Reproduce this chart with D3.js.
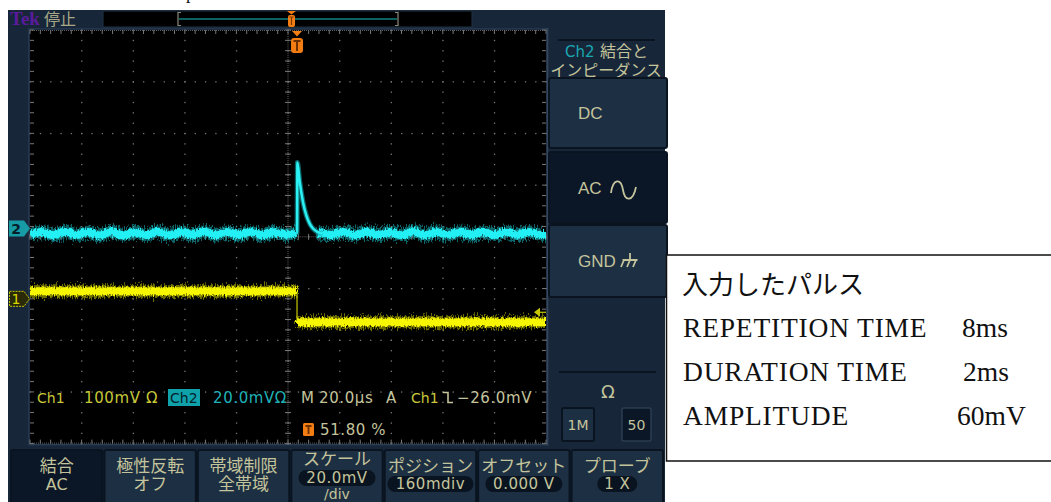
<!DOCTYPE html>
<html>
<head>
<meta charset="utf-8">
<script src="https://cdn.jsdelivr.net/npm/d3@7"></script>
<style>
  html, body { margin: 0; padding: 0; background: #fff; }
  svg { display: block; }
</style>
</head>
<body>
<div id="chart"></div>
<script>
// ---- values ----
// Ch1 (yellow): flat level before the trigger, steps down at t=0
const ch1Time = [-103.5, 0, 0, 96.5]           // µs
const ch1Volt = [14.5, 14.5, -45.5, -45.5]     // mV

// Ch2 (cyan): small ripple, spike at the step, decays back
const ch2PreTime = [-103.5, -99, -94.5, -90, -85.5, -81, -76.5, -72, -67.5, -63, -58.5, -54,
  -49.5, -45, -40.5, -36, -31.5, -27, -22.5, -18, -13.5, -9, -4.5, -0.3]
const ch2PreVolt = [-2.3, -1.3, -2.6, -1.2, -2.5, -1.3, -2.7, -1.1, -2.6, -1.3, -2.5, -1.2,
  -2.6, -1.3, -2.4, -1.2, -2.6, -1.3, -2.5, -1.2, -2.6, -1.4, -2.4, -1.6]
const ch2SpikeTime = [-0.3, 0.0, 0.15, 1.05, 2.3, 3.6, 4.9, 6.2, 8.1, 10]
const ch2SpikeVolt = [-1.6, -1.6, 25.5, 18.1, 10.3, 5.1, 1.9, 0.0, -1.4, -1.9]
const ch2PostTime = [8.1, 10, 13.5, 18, 22.5, 27, 31.5, 36, 40.5, 45, 49.5, 54, 58.5, 63,
  67.5, 72, 76.5, 81, 85.5, 90, 94.5, 96.5]
const ch2PostVolt = [-1.6, -1.9, -2.5, -1.3, -2.6, -1.2, -2.5, -1.3, -2.6, -1.1, -2.5, -1.3,
  -2.6, -1.2, -2.5, -1.3, -2.6, -1.2, -2.4, -1.3, -2.5, -2.0]

const timeRange = [-103.5, 96.5]   // 10 div x 20µs, trigger at 51.8 %
const ch1Scale = 100, ch1Pos = -1.2   // mV/div, div
const ch2Scale = 20,  ch2Pos = 0.16
const trigLevel = -26                 // mV on Ch1

const menuTop = ["結合", "極性反転", "帯域制限", "スケール", "ポジション", "オフセット", "プローブ"]
const menuBottom = ["AC", "オフ", "全帯域", "20.0mV", "160mdiv", "0.000 V", "1 X"]
const menuPill = [false, false, false, true, true, true, true]
const sideButtons = ["DC", "AC", "GND"]

const noteTitle = "入力したパルス"
const noteLabels = ["REPETITION TIME", "DURATION TIME", "AMPLITUDE"]
const noteValues = ["8ms", "2ms", "60mV"]

// ---- layout ----
const W = 1051, H = 502
const gx0 = 30, gx1 = 546, gy0 = 30, gy1 = 443.6
const divY = (gy1 - gy0) / 8
const yc = (gy0 + gy1) / 2

const navy = "#172739", btn = "#1d2f42", btnDark = "#0b1727", btnEdge = "#0a1420"
const khaki = "#c4c49c", yel = "#c8c83a", cyanTxt = "#1fb0b8", orange = "#f27d12"
const ui = "'DejaVu Sans', sans-serif", jp = "'Noto Sans CJK JP', sans-serif"

const x = d3.scaleLinear().domain(timeRange).range([gx0, gx1])
const y1 = d3.scaleLinear().domain([0, ch1Scale]).range([yc - ch1Pos * divY, yc - (ch1Pos + 1) * divY])
const y2 = d3.scaleLinear().domain([0, ch2Scale]).range([yc - ch2Pos * divY, yc - (ch2Pos + 1) * divY])

const svg = d3.select("#chart").append("svg")
  .attr("width", W).attr("height", H)
  .style("font-family", ui)

const defs = svg.append("defs")
function noiseFilter(id, scale, seed) {
  const f = defs.append("filter").attr("id", id).attr("filterUnits", "userSpaceOnUse")
    .attr("x", gx0 - 10).attr("y", gy0).attr("width", gx1 - gx0 + 20).attr("height", gy1 - gy0)
  f.append("feTurbulence").attr("type", "fractalNoise")
    .attr("baseFrequency", "0.9 0.25").attr("numOctaves", 2).attr("seed", seed).attr("result", "n")
  f.append("feDisplacementMap").attr("in", "SourceGraphic").attr("in2", "n")
    .attr("scale", scale).attr("xChannelSelector", "R").attr("yChannelSelector", "G")
}
noiseFilter("noiseWide", 13, 2)
noiseFilter("noiseNarrow", 6, 7)
defs.append("clipPath").attr("id", "grat")
  .append("rect").attr("x", gx0).attr("y", gy0).attr("width", gx1 - gx0).attr("height", gy1 - gy0)

// a stray glyph of the caption above the screenshot
svg.append("text").attr("x", 186).attr("y", -1).attr("font-family", "'Liberation Serif', serif")
  .attr("font-size", 18).attr("fill", "#111").text("p")

// ---- scope frame ----
svg.append("rect").attr("x", 8).attr("y", 10).attr("width", 657).attr("height", 492).attr("fill", navy)

// top bar
svg.append("text").attr("x", 10).attr("y", 25).attr("font-family", "'Liberation Serif', serif")
  .attr("font-weight", "bold").attr("font-size", 19).attr("fill", "#5a1a9c").text("Tek")
svg.append("text").attr("x", 44).attr("y", 25).attr("font-family", jp)
  .attr("font-size", 16).attr("fill", "#a8a888").text("停止")
svg.append("rect").attr("x", 103).attr("y", 11).attr("width", 369).attr("height", 16)
  .attr("fill", "#000").attr("stroke", "#223246")
svg.append("line").attr("x1", 179).attr("x2", 397).attr("y1", 19).attr("y2", 19)
  .attr("stroke", "#0f8080").attr("stroke-width", 1.5)
svg.append("path").attr("d", "M181,12.5 h-3 v13 h3 M395,12.5 h3 v13 h-3")
  .attr("fill", "none").attr("stroke", "#8a8a7a").attr("stroke-width", 1.2)
svg.append("path").attr("d", "M287,11 h9 l-4.5,3.5 z").attr("fill", orange)
svg.append("rect").attr("x", 288).attr("y", 15).attr("width", 7).attr("height", 12).attr("rx", 2).attr("fill", orange)
svg.append("path").attr("d", "M289.5,17 h4 M291.5,17 v8").attr("stroke", "#7a3a00").attr("stroke-width", 1.2)

// graticule
svg.append("rect").attr("x", gx0 - 1).attr("y", gy0 - 1).attr("width", gx1 - gx0 + 2).attr("height", gy1 - gy0 + 2)
  .attr("fill", "#000").attr("stroke", "#2a3d55").attr("stroke-width", 1.5)

const grid = svg.append("g").attr("fill", "#777")
const vDivs = d3.range(1, 10).map(i => gx0 + i * (gx1 - gx0) / 10)
const hDivs = d3.range(1, 8).map(j => gy0 + j * divY)
const ySteps = d3.range(0, 41).map(k => gy0 + k * divY / 5)
const xSteps = d3.range(0, 51).map(k => gx0 + k * (gx1 - gx0) / 50)
vDivs.forEach(vx => ySteps.forEach(vy => grid.append("rect").attr("x", vx - 0.5).attr("y", vy - 0.5).attr("width", 1.3).attr("height", 1.3)))
hDivs.forEach(hy => xSteps.forEach(hx => grid.append("rect").attr("x", hx - 0.5).attr("y", hy - 0.5).attr("width", 1.3).attr("height", 1.3)))
// centre cross ticks
const xc = (gx0 + gx1) / 2
ySteps.forEach(vy => grid.append("rect").attr("x", xc - 3).attr("y", vy - 0.5).attr("width", 6).attr("height", 1))
xSteps.forEach(hx => grid.append("rect").attr("x", hx - 0.5).attr("y", yc - 3).attr("width", 1).attr("height", 6))
d3.range(0, 201).forEach(k => {
  const vy = gy0 + k * (gy1 - gy0) / 200
  grid.append("rect").attr("x", xc - 0.5).attr("y", vy).attr("width", 1).attr("height", 0.8)
})
d3.range(0, 251).forEach(k => {
  const hx = gx0 + k * (gx1 - gx0) / 250
  grid.append("rect").attr("x", hx).attr("y", yc - 0.5).attr("width", 0.8).attr("height", 1)
})
// edge ticks
xSteps.forEach(hx => {
  grid.append("rect").attr("x", hx - 0.5).attr("y", gy0).attr("width", 1).attr("height", 4)
  grid.append("rect").attr("x", hx - 0.5).attr("y", gy1 - 4).attr("width", 1).attr("height", 4)
})
ySteps.forEach(vy => {
  grid.append("rect").attr("x", gx0).attr("y", vy - 0.5).attr("width", 4).attr("height", 1)
  grid.append("rect").attr("x", gx1 - 4).attr("y", vy - 0.5).attr("width", 4).attr("height", 1)
})
d3.range(0, 259).forEach(k => {
  const hx = gx0 + k * 2
  grid.append("rect").attr("x", hx).attr("y", gy0).attr("width", 0.8).attr("height", 1)
  grid.append("rect").attr("x", hx).attr("y", gy1 - 1).attr("width", 0.8).attr("height", 1)
})

// ---- traces ----
const traces = svg.append("g").attr("clip-path", "url(#grat)")
function band(times, volts, ys, curve, core, halo, wCore, wHalo) {
  const line = d3.line().x((d, i) => x(times[i])).y((d, i) => ys(volts[i])).curve(curve)
  traces.append("path").attr("d", line(times)).attr("fill", "none")
    .attr("stroke", halo).attr("stroke-width", wHalo).attr("opacity", 0.6).attr("filter", "url(#noiseWide)")
  traces.append("path").attr("d", line(times)).attr("fill", "none")
    .attr("stroke", core).attr("stroke-width", wCore).attr("filter", "url(#noiseNarrow)")
}
// Ch1 as two flat bands and a thin edge
traces.append("line").attr("x1", x(0)).attr("x2", x(0)).attr("y1", y1(ch1Volt[1])).attr("y2", y1(ch1Volt[2]))
  .attr("stroke", "#a0a000").attr("stroke-width", 1.5)
band(ch1Time.slice(0, 2), ch1Volt.slice(0, 2), y1, d3.curveLinear, "#f6f600", "#b8b800", 8, 12)
band(ch1Time.slice(2), ch1Volt.slice(2), y1, d3.curveLinear, "#f6f600", "#b8b800", 8, 12)
// Ch2
band(ch2PreTime, ch2PreVolt, y2, d3.curveCardinal, "#24f0f4", "#14a8b0", 8, 13)
band(ch2PostTime, ch2PostVolt, y2, d3.curveCardinal, "#24f0f4", "#14a8b0", 8, 13)
const spike = d3.line().x((d, i) => x(ch2SpikeTime[i])).y((d, i) => y2(ch2SpikeVolt[i])).curve(d3.curveMonotoneX)
traces.append("path").attr("d", spike(ch2SpikeTime)).attr("fill", "none")
  .attr("stroke", "#15a8b0").attr("stroke-width", 5).attr("opacity", 0.6)
traces.append("path").attr("d", spike(ch2SpikeTime)).attr("fill", "none")
  .attr("stroke", "#2af0f4").attr("stroke-width", 2.5)

// trigger position marker
const tx = x(0)
svg.append("path").attr("d", `M${tx - 5},31 h10 l-5,5.5 z`).attr("fill", orange)
svg.append("rect").attr("x", tx - 6).attr("y", 38).attr("width", 12).attr("height", 15).attr("rx", 3).attr("fill", orange)
svg.append("path").attr("d", `M${tx - 3.5},41 h7 M${tx},41 v10`).attr("stroke", "#6a3000").attr("stroke-width", 2)

// trigger level marker
const ty = y1(trigLevel)
svg.append("path").attr("d", `M${gx1 - 12},${ty} l6,-4.5 v9 z`).attr("fill", "#c8c800")
svg.append("line").attr("x1", gx1 - 6).attr("x2", gx1).attr("y1", ty).attr("y2", ty).attr("stroke", "#c8c800").attr("stroke-width", 1.2)

// channel ground markers
const m2 = y2(0), m1 = y1(0)
svg.append("path").attr("d", `M9,${m2 - 8} h15 l6,8 l-6,8 h-15 z`).attr("fill", "#179ca6")
svg.append("text").attr("x", 16).attr("y", m2 + 5.5).attr("text-anchor", "middle").attr("font-size", 14)
  .attr("font-weight", "bold").attr("fill", "#06202a").text("2")
svg.append("path").attr("d", `M9.5,${m1 - 7.5} h14.5 l5.5,7.5 l-5.5,7.5 h-14.5 z`).attr("fill", "#2a2a08")
  .attr("stroke", "#c8c800").attr("stroke-width", 1).attr("stroke-dasharray", "2,1")
svg.append("text").attr("x", 16).attr("y", m1 + 5.5).attr("text-anchor", "middle").attr("font-size", 14)
  .attr("fill", "#d8d800").text("1")

// ---- readouts ----
const ro = svg.append("g").attr("font-size", 15).attr("letter-spacing", 0.6)
const rY = 403
ro.append("text").attr("x", 37).attr("y", rY).attr("font-size", 14).attr("letter-spacing", 0).attr("fill", yel).text("Ch1")
ro.append("text").attr("x", 84).attr("y", rY).attr("fill", yel).text("100mV")
ro.append("text").attr("x", 146).attr("y", rY).attr("fill", yel).text("Ω")
ro.append("rect").attr("x", 168).attr("y", 389).attr("width", 32).attr("height", 17).attr("fill", "#10a2aa")
ro.append("text").attr("x", 170).attr("y", rY).attr("font-size", 14).attr("letter-spacing", 0).attr("fill", "#03222a").text("Ch2")
ro.append("text").attr("x", 213).attr("y", rY).attr("fill", cyanTxt).text("20.0mVΩ")
ro.append("text").attr("x", 301).attr("y", rY).attr("fill", khaki).text("M")
ro.append("text").attr("x", 319).attr("y", rY).attr("fill", khaki).text("20.0µs")
ro.append("text").attr("x", 386).attr("y", rY).attr("fill", khaki).text("A")
ro.append("text").attr("x", 411).attr("y", rY).attr("font-size", 14).attr("letter-spacing", 0).attr("fill", yel).text("Ch1")
ro.append("path").attr("d", "M443,392.5 h5 v10 h5").attr("fill", "none").attr("stroke", khaki).attr("stroke-width", 1.6)
ro.append("text").attr("x", 457).attr("y", rY).attr("fill", khaki).text("−26.0mV")
ro.append("rect").attr("x", 303).attr("y", 423).attr("width", 11).attr("height", 13).attr("rx", 1.5).attr("fill", orange)
ro.append("path").attr("d", "M305.5,426 h6 M308.5,426 v8").attr("stroke", "#6a3000").attr("stroke-width", 1.8)
ro.append("text").attr("x", 320).attr("y", 435).attr("fill", khaki).text("51.80 %")

// ---- bottom menu ----
const bw = (664 - 10) / 7
menuTop.forEach((t, i) => {
  const bx = 10 + i * bw
  const g = svg.append("g")
  g.append("rect").attr("x", bx + 1).attr("y", 450).attr("width", bw - 2).attr("height", 56).attr("rx", 2)
    .attr("fill", i === 0 ? btnDark : btn).attr("stroke", btnEdge).attr("stroke-width", 2)
  const cx = bx + bw / 2
  const isScale = i === 3
  g.append("text").attr("x", cx).attr("y", isScale ? 465 : 472).attr("text-anchor", "middle")
    .attr("font-family", jp).attr("font-size", 17).attr("fill", khaki).text(t)
  if (menuPill[i]) {
    const pw = i === 6 ? 40 : (i === 4 ? 86 : 77)
    const py = isScale ? 470 : 476
    g.append("rect").attr("x", cx - pw / 2).attr("y", py).attr("width", pw).attr("height", 16).attr("rx", 8).attr("fill", "#0a1420")
    g.append("text").attr("x", cx).attr("y", py + 13).attr("text-anchor", "middle")
      .attr("font-size", 15).attr("letter-spacing", 0.5).attr("fill", khaki).text(menuBottom[i])
    if (isScale) g.append("text").attr("x", cx).attr("y", 499).attr("text-anchor", "middle")
      .attr("font-size", 14).attr("fill", khaki).text("/div")
  } else {
    const latin = /^[A-Za-z0-9 .]+$/.test(menuBottom[i])
    g.append("text").attr("x", cx).attr("y", 490).attr("text-anchor", "middle")
      .attr("font-family", latin ? ui : jp).attr("font-size", latin ? 16 : 17).attr("fill", khaki).text(menuBottom[i])
  }
})

// ---- side menu ----
svg.append("line").attr("x1", gx1 + 1.5).attr("x2", gx1 + 1.5).attr("y1", gy0 - 2).attr("y2", gy1 + 2)
  .attr("stroke", "#34475e").attr("stroke-width", 1.5)
svg.append("line").attr("x1", 558).attr("x2", 655).attr("y1", 40).attr("y2", 40).attr("stroke", btnEdge).attr("stroke-width", 2)
svg.append("text").attr("x", 565).attr("y", 57).attr("font-family", ui).attr("font-size", 15)
  .attr("fill", "#1aa8b2").text("Ch2")
svg.append("text").attr("x", 600).attr("y", 57).attr("font-family", jp).attr("font-size", 16)
  .attr("fill", khaki).text("結合と")
svg.append("text").attr("x", 606).attr("y", 76).attr("text-anchor", "middle").attr("font-family", jp)
  .attr("font-size", 16).attr("fill", khaki).text("インピーダンス")
const sideY = [78, 152, 225], sideH = [70, 71, 72]
sideButtons.forEach((s, i) => {
  svg.append("rect").attr("x", 549).attr("y", sideY[i]).attr("width", 118).attr("height", sideH[i]).attr("rx", 2)
    .attr("fill", i === 1 ? btnDark : btn).attr("stroke", btnEdge).attr("stroke-width", 2)
  svg.append("text").attr("x", 578).attr("y", sideY[i] + sideH[i] / 2 + 6).attr("font-family", "'Liberation Sans', sans-serif")
    .attr("font-size", 17).attr("fill", khaki).text(s)
})
svg.append("path").attr("d", "M611,193 C613,178 621,178 623,190 C625,202 633,202 636,187")
  .attr("fill", "none").attr("stroke", khaki).attr("stroke-width", 1.8)
// chassis ground symbol
svg.append("path").attr("d", "M630,253 v7 M622.5,260 h15 M624,260 l-3,7 M630,260 l-3,7 M636,260 l-3,7")
  .attr("fill", "none").attr("stroke", khaki).attr("stroke-width", 1.8)
svg.append("line").attr("x1", 559).attr("x2", 656).attr("y1", 372).attr("y2", 372).attr("stroke", btnEdge).attr("stroke-width", 2)
svg.append("text").attr("x", 608).attr("y", 398).attr("text-anchor", "middle").attr("font-size", 18).attr("fill", khaki).text("Ω")
svg.append("rect").attr("x", 562).attr("y", 408).attr("width", 32).attr("height", 33).attr("rx", 2)
  .attr("fill", btn).attr("stroke", btnEdge).attr("stroke-width", 2)
svg.append("text").attr("x", 578).attr("y", 430).attr("text-anchor", "middle").attr("font-size", 14).attr("fill", khaki).text("1M")
svg.append("rect").attr("x", 622).attr("y", 408).attr("width", 29).attr("height", 33).attr("rx", 2)
  .attr("fill", btnDark).attr("stroke", "#2c3e52").attr("stroke-width", 1.5)
svg.append("text").attr("x", 636.5).attr("y", 430).attr("text-anchor", "middle").attr("font-size", 14).attr("fill", khaki).text("50")

// ---- note box ----
svg.append("rect").attr("x", 666.5).attr("y", 255).attr("width", 420).attr("height", 206)
  .attr("fill", "#fff").attr("stroke", "#111").attr("stroke-width", 1.5)
svg.append("text").attr("x", 682).attr("y", 294).attr("font-family", jp).attr("font-size", 26)
  .attr("fill", "#111").text(noteTitle)
const serif = "'Liberation Serif', serif"
const noteValX = [962, 963, 957]
noteLabels.forEach((l, i) => {
  svg.append("text").attr("x", 683).attr("y", 337 + i * 44).attr("font-family", serif).attr("font-size", 27.5)
    .attr("letter-spacing", 0.8).attr("fill", "#111").text(l)
  svg.append("text").attr("x", noteValX[i]).attr("y", 337 + i * 44).attr("font-family", serif).attr("font-size", 27.5)
    .attr("fill", "#111").text(noteValues[i])
})
</script>
</body>
</html>
